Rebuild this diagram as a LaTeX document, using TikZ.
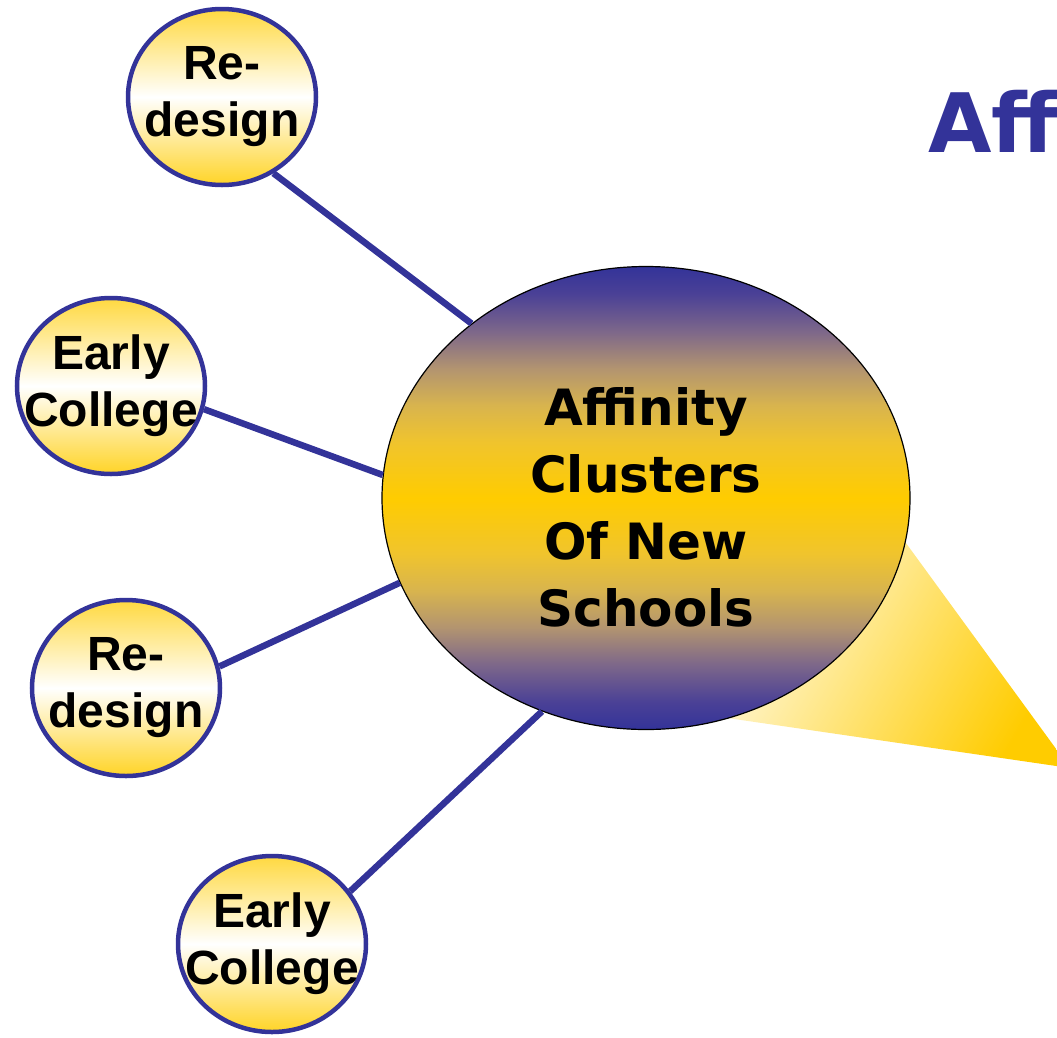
\documentclass[tikz,border=0pt]{standalone}
\usepackage{fontspec}
\setmainfont{Liberation Sans}
\newfontfamily\verdfont{DejaVu Sans}
\usetikzlibrary{shapes.geometric}

\definecolor{navy}{HTML}{333399}
\definecolor{gold}{HTML}{FFCC00}
\definecolor{hubA}{RGB}{75,65,150}
\definecolor{hubB}{RGB}{125,103,138}
\definecolor{hubC}{RGB}{178,148,112}
\definecolor{hubD}{RGB}{216,180,78}
\definecolor{hubE}{RGB}{240,196,45}

\pgfdeclareverticalshading{hubshade}{100bp}{color(0bp)=(navy); color(25bp)=(navy);
  color(28bp)=(hubA); color(32bp)=(hubB); color(36bp)=(hubC); color(40bp)=(hubD);
  color(44bp)=(hubE); color(50bp)=(gold); color(56bp)=(hubE); color(60bp)=(hubD);
  color(64bp)=(hubC); color(68bp)=(hubB); color(72bp)=(hubA); color(75bp)=(navy);
  color(100bp)=(navy)}

\begin{document}
\begin{tikzpicture}
    [x=1pt, y=-1pt, every node/.style={align=center, inner sep=0pt},
      bubble/.style = {ellipse, draw=navy, line width=4.5pt,
        minimum width=188pt, minimum height=176pt, inner xsep=-24pt,
        top color=gold!75!white, bottom color=gold!85!white, middle color=white,
        font=\fontsize{48}{57}\selectfont\bfseries},
      hub/.style = {ellipse, draw=black, line width=1.2pt,
        minimum width=528pt, minimum height=463pt, shading=hubshade,
        font=\verdfont\fontsize{50}{67}\selectfont\bfseries},
      spoke/.style = {draw=navy, line width=6.5pt}]

    \useasboundingbox (0,0) rectangle (1057,1037);
    \clip (0,0) rectangle (1057,1037);

    % callout wedge behind the hub
    \shade[left color=white, right color=gold, shading angle=60]
      (860,480) -- (1070,768) -- (700,714) -- cycle;

    \node (hub) [hub] at (646,498)
    {\rule{0pt}{56pt}Affinity\\
      Clusters\\
      Of New\\
      Schools
    };

    \node (rd1) [bubble] at (222,97) {Re-\\design};
    \node (ec1) [bubble] at (111,386) {Early\\College};
    \node (rd2) [bubble] at (126,688) {Re-\\design};
    \node (ec2) [bubble] at (272,944) {Early\\College};

    \node (title) [anchor=base west, text=navy,
      font=\verdfont\fontsize{82}{82}\selectfont\bfseries] at (928,152) {Aff};

    \draw[spoke] (rd1.-56) -- (hub.135);
    \draw[spoke] (ec1.-14) -- (hub.175);
    \draw[spoke] (rd2.13) -- (hub.199);
    \draw[spoke] (ec2.34) -- (hub.244);
  \end{tikzpicture}
\end{document}
